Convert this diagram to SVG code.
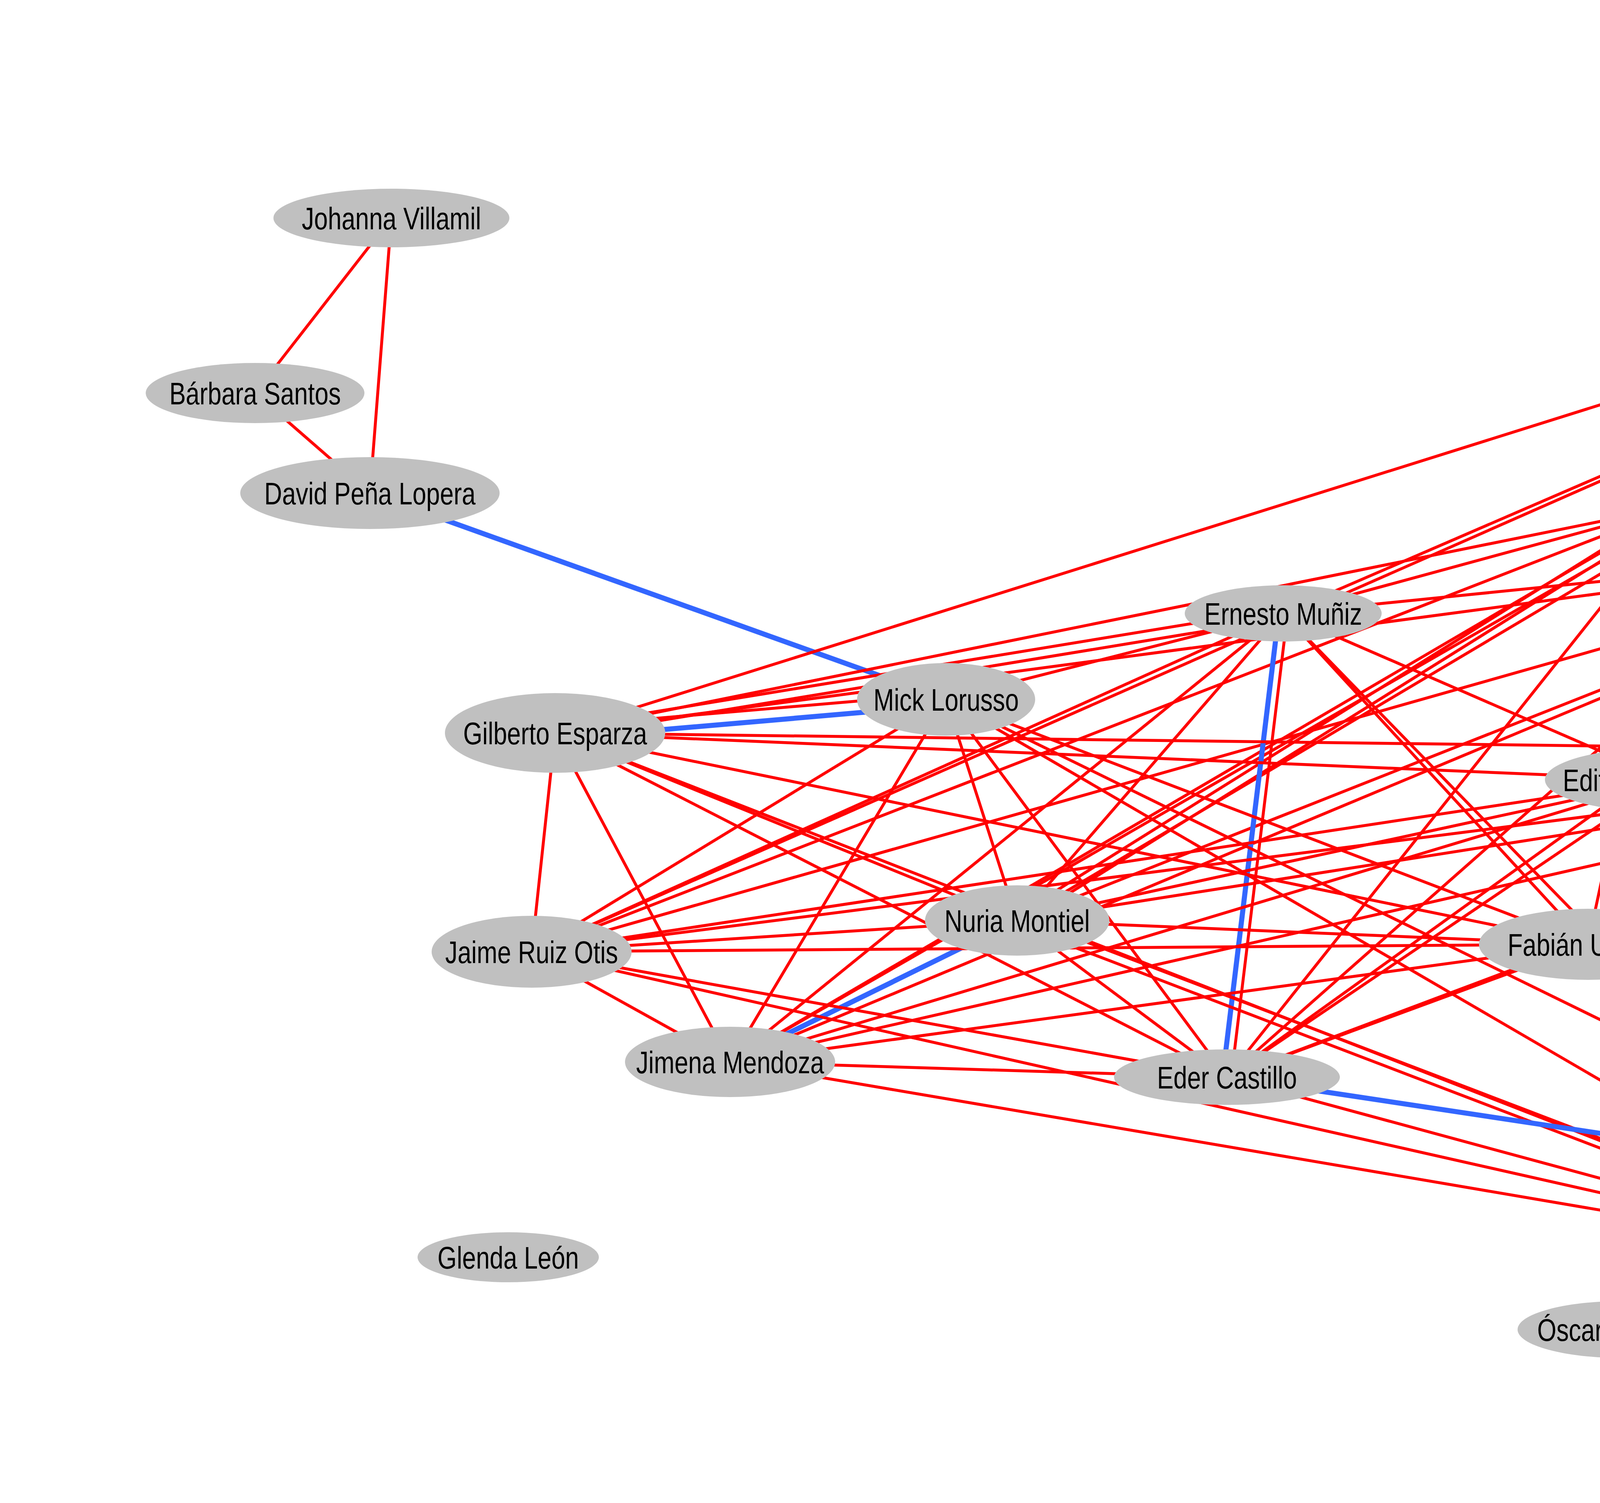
<svg xmlns="http://www.w3.org/2000/svg" width="7000" height="3847" viewBox="0 0 7000 3847">
<style>
.r{stroke:#ff0000;stroke-width:7.5;fill:none}
.rt{stroke:#ff0000;stroke-width:5.5;fill:none}
.rk{stroke:#ff0000;stroke-width:11;fill:none}
.b{stroke:#3366ff;stroke-width:13;fill:none}
.bt{stroke:#3366ff;stroke-width:8;fill:none}
.n ellipse{fill:#c0c0c0;stroke:none}
.n text{font-family:"Liberation Sans",Arial,sans-serif;font-size:80px;fill:#000;text-anchor:middle}
</style>
<rect x="0" y="0" width="7000" height="3847" fill="#ffffff"/>
<g id="connectors">
<line class="r" x1="5597" y1="227" x2="4569" y2="408"/>
<line class="b" x1="5601" y1="253" x2="4573" y2="434"/>
<line class="b" x1="5588" y1="242" x2="5631" y2="553"/>
<line class="rt" x1="5608" y1="239" x2="5651" y2="550"/>
<line class="r" x1="4571" y1="421" x2="5642" y2="551"/>
<line class="r" x1="1002" y1="558" x2="653" y2="1006"/>
<line class="r" x1="1002" y1="558" x2="947" y2="1262"/>
<line class="r" x1="653" y1="1006" x2="947" y2="1262"/>
<line class="b" x1="947" y1="1262" x2="2422" y2="1790"/>
<line class="r" x1="5642" y1="551" x2="1421" y2="1876"/>
<line class="r" x1="5642" y1="551" x2="3285" y2="1570"/>
<line class="r" x1="5642" y1="551" x2="1361" y2="2436"/>
<line class="r" x1="5642" y1="551" x2="4307" y2="1292"/>
<line class="r" x1="5642" y1="551" x2="2604" y2="2356"/>
<line class="r" x1="5642" y1="551" x2="1869" y2="2718"/>
<line class="r" x1="5642" y1="551" x2="3141" y2="2757"/>
<line class="r" x1="5642" y1="551" x2="4266" y2="1996"/>
<line class="r" x1="5642" y1="551" x2="4065" y2="2417"/>
<line class="r" x1="5642" y1="551" x2="5041" y2="1393"/>
<line class="r" x1="5642" y1="551" x2="5349" y2="1925"/>
<line class="r" x1="4307" y1="1292" x2="5041" y2="1393"/>
<line class="b" x1="4300" y1="1303" x2="5342" y2="1936"/>
<line class="r" x1="4314" y1="1281" x2="5356" y2="1914"/>
<line class="r" x1="4307" y1="1292" x2="3285" y2="1570"/>
<line class="r" x1="4307" y1="1292" x2="1421" y2="1876"/>
<line class="r" x1="4307" y1="1292" x2="1361" y2="2436"/>
<line class="r" x1="4301" y1="1282" x2="2598" y2="2346"/>
<line class="r" x1="4313" y1="1302" x2="2610" y2="2366"/>
<line class="r" x1="4307" y1="1292" x2="1869" y2="2718"/>
<line class="r" x1="4307" y1="1292" x2="3141" y2="2757"/>
<line class="r" x1="4307" y1="1292" x2="4266" y2="1996"/>
<line class="r" x1="4307" y1="1292" x2="4065" y2="2417"/>
<line class="r" x1="4307" y1="1292" x2="4905" y2="3235"/>
<line class="b" x1="5031" y1="1399" x2="5339" y2="1931"/>
<line class="r" x1="5051" y1="1387" x2="5359" y2="1919"/>
<line class="r" x1="5041" y1="1393" x2="3285" y2="1570"/>
<line class="r" x1="5041" y1="1393" x2="1421" y2="1876"/>
<line class="r" x1="5041" y1="1393" x2="1361" y2="2436"/>
<line class="r" x1="5041" y1="1393" x2="2604" y2="2356"/>
<line class="r" x1="5041" y1="1393" x2="1869" y2="2718"/>
<line class="r" x1="5041" y1="1393" x2="4266" y2="1996"/>
<line class="r" x1="5041" y1="1393" x2="3141" y2="2757"/>
<line class="r" x1="5041" y1="1393" x2="4065" y2="2417"/>
<line class="r" x1="5041" y1="1393" x2="4905" y2="3235"/>
<line class="r" x1="1423" y1="1888" x2="3287" y2="1582"/>
<line class="r" x1="1419" y1="1864" x2="3283" y2="1558"/>
<line class="r" x1="3285" y1="1570" x2="2422" y2="1790"/>
<line class="r" x1="3285" y1="1570" x2="1361" y2="2436"/>
<line class="r" x1="3285" y1="1570" x2="1869" y2="2718"/>
<line class="r" x1="3285" y1="1570" x2="2604" y2="2356"/>
<line class="r" x1="3285" y1="1570" x2="4266" y2="1996"/>
<line class="r" x1="3285" y1="1570" x2="4065" y2="2417"/>
<line class="r" x1="3285" y1="1570" x2="4905" y2="3235"/>
<line class="b" x1="3274" y1="1569" x2="3130" y2="2756"/>
<line class="r" x1="3296" y1="1571" x2="3152" y2="2758"/>
<line class="b" x1="1422" y1="1891" x2="2423" y2="1805"/>
<line class="r" x1="1420" y1="1861" x2="2421" y2="1775"/>
<line class="r" x1="2422" y1="1790" x2="1361" y2="2436"/>
<line class="r" x1="2422" y1="1790" x2="1869" y2="2718"/>
<line class="r" x1="2422" y1="1790" x2="2604" y2="2356"/>
<line class="r" x1="2422" y1="1790" x2="4065" y2="2417"/>
<line class="r" x1="2422" y1="1790" x2="4905" y2="3235"/>
<line class="r" x1="2422" y1="1790" x2="5955" y2="3520"/>
<line class="r" x1="2422" y1="1790" x2="3141" y2="2757"/>
<line class="r" x1="1421" y1="1876" x2="5349" y2="1925"/>
<line class="r" x1="1421" y1="1876" x2="4266" y2="1996"/>
<line class="r" x1="1421" y1="1876" x2="4065" y2="2417"/>
<line class="r" x1="1421" y1="1876" x2="2604" y2="2356"/>
<line class="r" x1="1421" y1="1876" x2="4905" y2="3235"/>
<line class="r" x1="1421" y1="1876" x2="3141" y2="2757"/>
<line class="r" x1="1421" y1="1876" x2="1361" y2="2436"/>
<line class="r" x1="1421" y1="1876" x2="1869" y2="2718"/>
<line class="r" x1="4265" y1="1982" x2="5348" y2="1911"/>
<line class="b" x1="4267" y1="2010" x2="5350" y2="1939"/>
<line class="r" x1="5349" y1="1925" x2="1361" y2="2436"/>
<line class="r" x1="5349" y1="1925" x2="2604" y2="2356"/>
<line class="r" x1="5349" y1="1925" x2="1869" y2="2718"/>
<line class="r" x1="5349" y1="1925" x2="4065" y2="2417"/>
<line class="r" x1="5349" y1="1925" x2="3141" y2="2757"/>
<line class="r" x1="4266" y1="1996" x2="4065" y2="2417"/>
<line class="r" x1="4266" y1="1996" x2="4905" y2="3235"/>
<line class="r" x1="4266" y1="1996" x2="1361" y2="2436"/>
<line class="r" x1="4266" y1="1996" x2="2604" y2="2356"/>
<line class="r" x1="4266" y1="1996" x2="1869" y2="2718"/>
<line class="r" x1="4266" y1="1996" x2="3141" y2="2757"/>
<line class="r" x1="2604" y1="2356" x2="4065" y2="2417"/>
<line class="r" x1="2604" y1="2356" x2="1361" y2="2436"/>
<line class="b" x1="2604" y1="2356" x2="1869" y2="2718"/>
<line class="r" x1="2604" y1="2356" x2="3141" y2="2757"/>
<line class="r" x1="2600" y1="2367" x2="4901" y2="3246"/>
<line class="r" x1="2608" y1="2345" x2="4909" y2="3224"/>
<line class="r" x1="4065" y1="2417" x2="1361" y2="2436"/>
<line class="r" x1="4065" y1="2417" x2="1869" y2="2718"/>
<line class="r" x1="4065" y1="2417" x2="3141" y2="2757"/>
<line class="r" x1="4065" y1="2417" x2="4905" y2="3235"/>
<line class="r" x1="4065" y1="2417" x2="6351" y2="3291"/>
<line class="r" x1="1361" y1="2436" x2="1869" y2="2718"/>
<line class="r" x1="1361" y1="2436" x2="3141" y2="2757"/>
<line class="r" x1="1361" y1="2436" x2="4905" y2="3235"/>
<line class="r" x1="1869" y1="2718" x2="3141" y2="2757"/>
<line class="r" x1="1869" y1="2718" x2="4905" y2="3235"/>
<line class="r" x1="3141" y1="2757" x2="4905" y2="3235"/>
<line class="b" x1="3141" y1="2757" x2="5625" y2="3131"/>
<line class="r" x1="4905" y1="3235" x2="4153" y2="3403"/>
<line class="bt" x1="4905" y1="3235" x2="4726" y2="3609"/>
<line class="rk" x1="4905" y1="3235" x2="6351" y2="3291"/>
<line class="r" x1="4905" y1="3235" x2="5955" y2="3520"/>
<line class="rk" x1="5625" y1="3131" x2="6351" y2="3291"/>
<line class="r" x1="5625" y1="3131" x2="4726" y2="3609"/>
<line class="rt" x1="5625" y1="3131" x2="5955" y2="3520"/>
<line class="rk" x1="6351" y1="3291" x2="4726" y2="3609"/>
<line class="rk" x1="4726" y1="3609" x2="5955" y2="3520"/>
<line class="b" x1="6346" y1="3282" x2="5950" y2="3511"/>
<line class="rt" x1="6356" y1="3300" x2="5960" y2="3529"/>
</g>
<g id="node-eliana" class="n"><ellipse cx="5599" cy="240" rx="217" ry="77"/><text transform="translate(5599,269) scale(0.79,1)">Eliana Otta</text></g>
<g id="node-christians" class="n"><ellipse cx="4571" cy="421" rx="268" ry="85"/><text transform="translate(4571,450) scale(0.79,1)">Christians Luna</text></g>
<g id="node-rita" class="n"><ellipse cx="5642" cy="551" rx="340" ry="79"/><text transform="translate(5642,580) scale(0.79,1)">Rita Ponce de León</text></g>
<g id="node-johanna" class="n"><ellipse cx="1002" cy="558" rx="302" ry="75"/><text transform="translate(1002,587) scale(0.79,1)">Johanna Villamil</text></g>
<g id="node-barbara" class="n"><ellipse cx="653" cy="1006" rx="280" ry="77"/><text transform="translate(653,1035) scale(0.79,1)">Bárbara Santos</text></g>
<g id="node-david" class="n"><ellipse cx="947" cy="1262" rx="332" ry="92"/><text transform="translate(947,1291) scale(0.79,1)">David Peña Lopera</text></g>
<g id="node-omar" class="n"><ellipse cx="4307" cy="1292" rx="194" ry="83"/><text transform="translate(4307,1321) scale(0.79,1)">Omar SM</text></g>
<g id="node-felix" class="n"><ellipse cx="5041" cy="1393" rx="194" ry="63"/><text transform="translate(5041,1422) scale(0.79,1)">Félix Luna</text></g>
<g id="node-ernesto" class="n"><ellipse cx="3285" cy="1570" rx="252" ry="72"/><text transform="translate(3285,1599) scale(0.79,1)">Ernesto Muñiz</text></g>
<g id="node-mick" class="n"><ellipse cx="2422" cy="1790" rx="228" ry="93"/><text transform="translate(2422,1819) scale(0.79,1)">Mick Lorusso</text></g>
<g id="node-gilberto" class="n"><ellipse cx="1421" cy="1876" rx="282" ry="102"/><text transform="translate(1421,1905) scale(0.79,1)">Gilberto Esparza</text></g>
<g id="node-valeria" class="n"><ellipse cx="5349" cy="1925" rx="302" ry="75"/><text transform="translate(5349,1954) scale(0.79,1)">Valeria Caballero</text></g>
<g id="node-edith" class="n"><ellipse cx="4266" cy="1996" rx="311" ry="83"/><text transform="translate(4266,2025) scale(0.79,1)">Edith López Ovalle</text></g>
<g id="node-nuria" class="n"><ellipse cx="2604" cy="2356" rx="236" ry="90"/><text transform="translate(2604,2385) scale(0.79,1)">Nuria Montiel</text></g>
<g id="node-fabian" class="n"><ellipse cx="4065" cy="2417" rx="279" ry="91"/><text transform="translate(4065,2446) scale(0.79,1)">Fabián Ugalde</text></g>
<g id="node-jaime" class="n"><ellipse cx="1361" cy="2436" rx="256" ry="92"/><text transform="translate(1361,2465) scale(0.79,1)">Jaime Ruiz Otis</text></g>
<g id="node-jimena" class="n"><ellipse cx="1869" cy="2718" rx="269" ry="90"/><text transform="translate(1869,2747) scale(0.79,1)">Jimena Mendoza</text></g>
<g id="node-eder" class="n"><ellipse cx="3141" cy="2757" rx="289" ry="71"/><text transform="translate(3141,2786) scale(0.79,1)">Eder Castillo</text></g>
<g id="node-angel" class="n"><ellipse cx="5625" cy="3131" rx="243" ry="81"/><text transform="translate(5625,3160) scale(0.79,1)">Ángel Poyón</text></g>
<g id="node-glenda" class="n"><ellipse cx="1301" cy="3218" rx="232" ry="64"/><text transform="translate(1301,3247) scale(0.79,1)">Glenda León</text></g>
<g id="node-paulina" class="n"><ellipse cx="4905" cy="3235" rx="381" ry="83"/><text transform="translate(4905,3264) scale(0.79,1)">Paulina Velázquez Solís</text></g>
<g id="node-maria" class="n"><ellipse cx="6351" cy="3291" rx="285" ry="86"/><text transform="translate(6351,3320) scale(0.79,1)">María Adela Díaz</text></g>
<g id="node-oscar" class="n"><ellipse cx="4153" cy="3403" rx="268" ry="73"/><text transform="translate(4153,3432) scale(0.79,1)">Óscar Figueroa</text></g>
<g id="node-marilyn" class="n"><ellipse cx="4726" cy="3609" rx="254" ry="75"/><text transform="translate(4726,3638) scale(0.79,1)">Marilyn Boror</text></g>
<g id="node-jessica" class="n"><ellipse cx="5955" cy="3520" rx="267" ry="88"/><text transform="translate(5955,3549) scale(0.79,1)">Jessica Lagunas</text></g>
</svg>
